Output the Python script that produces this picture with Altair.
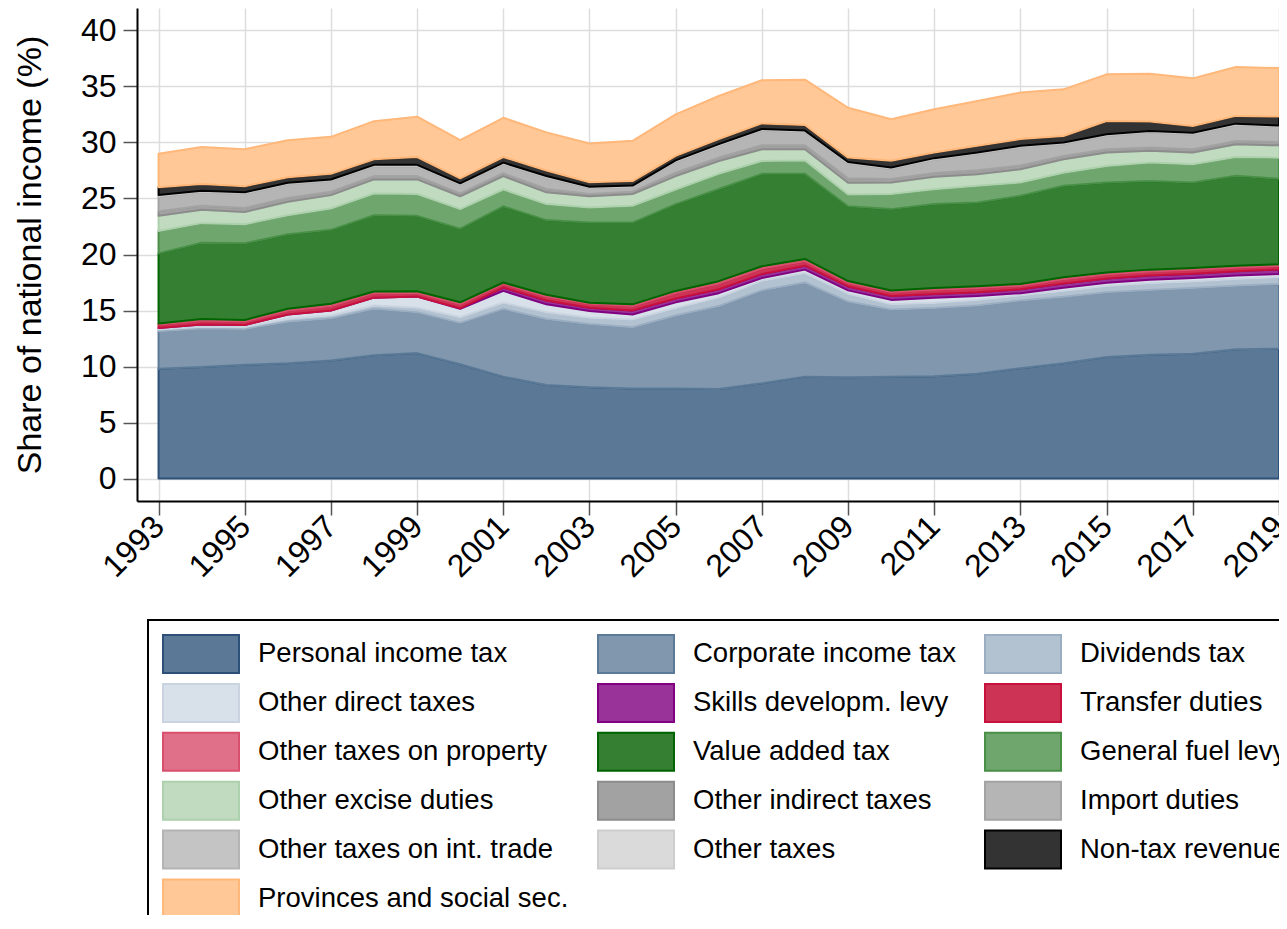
import altair as alt
import pandas as pd

years = list(range(1993, 2020))

labels = [
    "Personal income tax", "Corporate income tax", "Dividends tax",
    "Other direct taxes", "Skills developm. levy", "Transfer duties",
    "Other taxes on property", "Value added tax", "General fuel levy",
    "Other excise duties", "Other indirect taxes", "Import duties",
    "Other taxes on int. trade", "Other taxes", "Non-tax revenue",
    "Provinces and social sec.",
]

pit = [9.8, 9.95, 10.15, 10.3, 10.55, 11.0, 11.2, 10.2, 9.1, 8.35, 8.15, 8.05, 8.05, 8.0,
       8.5, 9.1, 9.05, 9.1, 9.14, 9.35, 9.85, 10.3, 10.85, 11.05, 11.15, 11.55, 11.6]
cit = [3.35, 3.45, 3.21, 3.7, 3.75, 4.15, 3.65, 3.7, 6.05, 5.9, 5.65, 5.45, 6.5, 7.4,
       8.3, 8.4, 6.75, 6.0, 6.09, 6.09, 6.05, 5.94, 5.78, 5.79, 5.85, 5.67, 5.77]
div = [0.15, 0.15, 0.15, 0.25, 0.25, 0.3, 0.4, 0.5, 0.55, 0.6, 0.55, 0.7, 0.68, 0.75,
       0.85, 0.85, 0.7, 0.45, 0.45, 0.5, 0.45, 0.5, 0.55, 0.6, 0.6, 0.6, 0.6]
odt = [0.15, 0.2, 0.2, 0.4, 0.45, 0.7, 1.0, 0.75, 1.05, 0.7, 0.6, 0.45, 0.5, 0.4,
       0.25, 0.3, 0.3, 0.4, 0.45, 0.35, 0.2, 0.3, 0.3, 0.3, 0.3, 0.3, 0.3]
sdl = [0, 0, 0, 0, 0, 0, 0, 0.05, 0.3, 0.35, 0.3, 0.35, 0.35, 0.35,
       0.35, 0.35, 0.35, 0.35, 0.35, 0.35, 0.35, 0.37, 0.38, 0.38, 0.39, 0.39, 0.39]
trd = [0.3, 0.35, 0.3, 0.35, 0.4, 0.4, 0.32, 0.38, 0.33, 0.35, 0.35, 0.4, 0.5, 0.52,
       0.5, 0.42, 0.33, 0.35, 0.37, 0.37, 0.32, 0.38, 0.37, 0.36, 0.34, 0.33, 0.31]
otp = [0.1, 0.15, 0.15, 0.15, 0.2, 0.15, 0.15, 0.15, 0.12, 0.15, 0.1, 0.15, 0.17, 0.2,
       0.2, 0.18, 0.15, 0.13, 0.15, 0.15, 0.15, 0.17, 0.17, 0.17, 0.17, 0.16, 0.16]
vat = [6.25, 6.8, 6.84, 6.65, 6.6, 6.8, 6.73, 6.57, 6.8, 6.67, 7.15, 7.3, 7.75, 8.23,
       8.25, 7.6, 6.67, 7.27, 7.5, 7.48, 7.87, 8.17, 8.03, 7.92, 7.63, 8.02, 7.64]
fuel = [2.0, 1.75, 1.7, 1.7, 1.9, 1.95, 1.95, 1.75, 1.5, 1.43, 1.35, 1.5, 1.3, 1.35,
        1.15, 1.2, 1.05, 1.34, 1.33, 1.49, 1.19, 1.17, 1.47, 1.63, 1.63, 1.69, 1.87]
exc = [1.35, 1.2, 1.1, 1.2, 1.2, 1.25, 1.3, 1.15, 1.2, 1.05, 1.0, 1.05, 1.2, 1.15,
       1.05, 1.0, 1.05, 1.04, 1.1, 1.04, 1.17, 1.2, 1.2, 1.05, 1.04, 1.13, 1.1]
oind = [0.4, 0.35, 0.35, 0.35, 0.3, 0.3, 0.3, 0.25, 0.25, 0.3, 0.2, 0.2, 0.3, 0.3,
        0.35, 0.35, 0.4, 0.3, 0.35, 0.35, 0.35, 0.3, 0.3, 0.3, 0.3, 0.3, 0.3]
imp = [1.3, 1.2, 1.25, 1.2, 0.95, 0.85, 0.85, 0.75, 0.8, 0.95, 0.55, 0.45, 0.95, 1.05,
       1.3, 1.16, 1.3, 0.9, 1.17, 1.43, 1.6, 1.05, 1.18, 1.33, 1.32, 1.39, 1.32]
itr = [0.1, 0.1, 0.1, 0.1, 0.1, 0.1, 0.1, 0.1, 0.1, 0.15, 0.05, 0.05, 0.1, 0.1,
       0.1, 0.1, 0.1, 0.08, 0.1, 0.1, 0.1, 0.1, 0.1, 0.1, 0.1, 0.1, 0.1]
oth = [0.05, 0.05, 0.05, 0.05, 0.05, 0.05, 0.05, 0.05, 0.05, 0.05, 0.05, 0.05, 0.05, 0.05,
       0.05, 0.05, 0.05, 0.05, 0.05, 0.05, 0.05, 0.05, 0.05, 0.05, 0.05, 0.05, 0.05]
ntr = [0.7, 0.6, 0.55, 0.5, 0.5, 0.5, 0.7, 0.45, 0.5, 0.5, 0.4, 0.4, 0.4, 0.45,
       0.5, 0.5, 0.4, 0.6, 0.5, 0.6, 0.6, 0.58, 1.19, 0.83, 0.6, 0.69, 0.8]
prov = [3.0, 3.3, 3.3, 3.3, 3.3, 3.4, 3.6, 3.4, 3.5, 3.4, 3.45, 3.6, 3.7, 3.85,
        3.85, 4.04, 4.45, 3.71, 3.86, 4.0, 4.15, 4.16, 4.16, 4.28, 4.25, 4.36, 4.33]

series = [pit, cit, div, odt, sdl, trd, otp, vat, fuel, exc, oind, imp, itr, oth, ntr, prov]

fills = ["#5b7896", "#8097ad", "#b2c2d1", "#d8e0e9", "#993399", "#cc3355", "#e07089",
         "#357f33", "#6fa66e", "#c0dbc0", "#a2a2a2", "#b5b5b5", "#c4c4c4", "#dadada",
         "#333333", "#ffc896"]
strokes = ["#2d5078", "#5b7a98", "#9aadc1", "#c9d4e0", "#800080", "#c8103c", "#d9506e",
           "#006400", "#4a8f48", "#add0ad", "#8c8c8c", "#a3a3a3", "#b4b4b4", "#cdcdcd",
           "#000000", "#ffb77a"]

x_ticks = list(range(1993, 2020, 2))
y_ticks = list(range(0, 45, 5))

rows = []
for i, (name, vals) in enumerate(zip(labels, series)):
    for yr, v in zip(years, vals):
        rows.append({"series": name, "idx": i, "year": yr, "value": v})
df = pd.DataFrame(rows)

FONT = "Liberation Sans"

legend = alt.Legend(
    title=None, orient="none", legendX=11, legendY=612, columns=3, direction="horizontal",
    symbolType="M-1,-1L3,-1L3,1L-1,1Z", symbolSize=1444,
    symbolStrokeWidth=2, symbolOpacity=1,
    labelFontSize=27.5, labelFont=FONT, labelColor="black", labelLimit=600,
    labelOffset=56, columnPadding=25, rowPadding=2.9, padding=14,
    strokeColor="black",
)

chart = alt.Chart(df).transform_stack(
    stack="value", groupby=["year"], as_=["y0", "y1"],
    sort=[alt.SortField(field="idx", order="ascending")],
).mark_area(opacity=1, strokeWidth=2, strokeJoin="round", interpolate="linear").encode(
    x=alt.X("year:Q",
            scale=alt.Scale(domain=[1992.5, 2019], nice=False, zero=False),
            axis=alt.Axis(values=x_ticks, format="d", title=None, labelAngle=315,
                          labelAlign="right", labelBaseline="middle", labelFontSize=32,
                          labelFont=FONT, labelColor="black", labelPadding=6,
                          labelOverlap=False, labelFlush=False, labelBound=False,
                          tickSize=14, tickColor="#555555", tickWidth=1.5,
                          domainColor="black", domainWidth=2,
                          grid=True, gridColor="#dddddd", gridWidth=1.5)),
    y=alt.Y("y0:Q",
            scale=alt.Scale(domain=[-2, 42], nice=False, zero=False),
            axis=alt.Axis(values=y_ticks, title="Share of national income (%)",
                          titleFontSize=34, titleFont=FONT, titleFontWeight="normal",
                          titleColor="black", titlePadding=33,
                          labelFontSize=32, labelFont=FONT, labelColor="black",
                          labelPadding=7, tickSize=14, tickColor="#555555", tickWidth=1.5,
                          domainColor="black", domainWidth=2,
                          grid=True, gridColor="#dddddd", gridWidth=1.5)),
    y2="y1:Q",
    fill=alt.Fill("series:N", scale=alt.Scale(domain=labels, range=fills), legend=legend),
    stroke=alt.Stroke("series:N", scale=alt.Scale(domain=labels, range=strokes), legend=legend),
).properties(
    width=1142, height=493,
    autosize=alt.AutoSizeParams(type="none"),
    padding={"left": 129, "top": 0, "right": 0, "bottom": 414},
    background="white",
).configure_view(strokeWidth=0).configure_legend(strokeWidth=2)

chart.save("out.html", embed_options={"renderer": "svg", "actions": False})
